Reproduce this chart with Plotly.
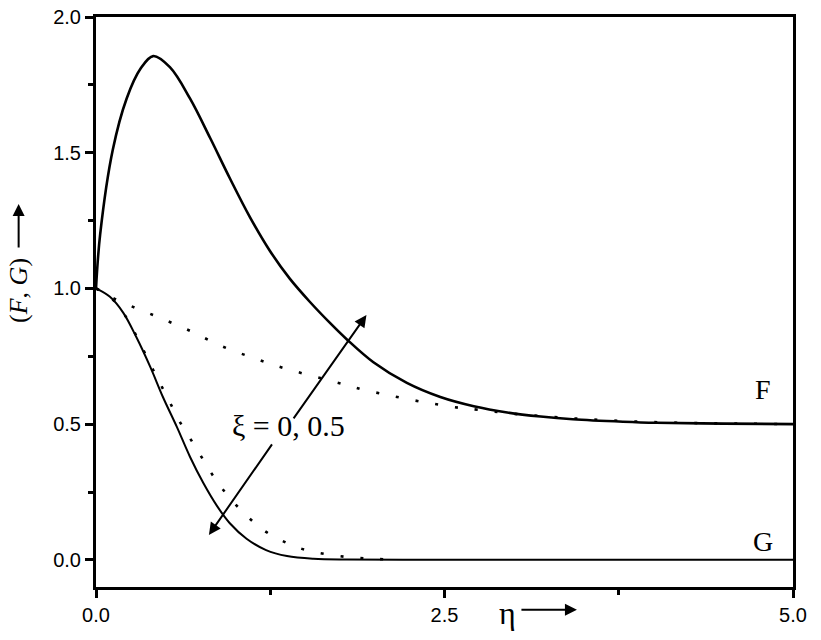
import plotly.graph_objects as go

# eta values and profiles
eta_F0 = [0.0, 0.03, 0.12, 0.22, 0.32, 0.41, 0.53, 0.674, 0.818, 0.961, 1.105, 1.248, 1.39,
          1.535, 1.68, 1.80, 1.99, 2.23, 2.47, 2.71, 2.95, 3.19, 3.42, 3.78, 4.02, 4.5, 5.0]
F_xi0 = [1.0, 1.20, 1.51, 1.70, 1.81, 1.856, 1.815, 1.70, 1.555, 1.405, 1.262, 1.138, 1.036,
         0.950, 0.872, 0.812, 0.728, 0.652, 0.600, 0.566, 0.543, 0.528, 0.518, 0.509, 0.505, 0.502, 0.50]

eta_F05 = [0.0, 0.12, 0.265, 0.41, 0.545, 0.69, 0.82, 0.95, 1.09, 1.23, 1.37, 1.79, 1.92,
           2.06, 2.19, 2.34, 2.47, 2.61, 2.74, 3.0, 3.4, 3.8, 4.2, 4.6, 5.0]
F_xi05 = [1.0, 0.965, 0.932, 0.902, 0.873, 0.84, 0.807, 0.777, 0.751, 0.726, 0.703, 0.645, 0.626,
          0.611, 0.597, 0.582, 0.571, 0.56, 0.553, 0.538, 0.522, 0.511, 0.505, 0.502, 0.50]

eta_G0 = [0.0, 0.10, 0.196, 0.29, 0.39, 0.48, 0.58, 0.674, 0.77, 0.87, 0.96, 1.08, 1.22,
          1.37, 1.56, 1.80, 2.2, 3.0, 4.0, 5.0]
G_xi0 = [1.0, 0.969, 0.91, 0.82, 0.71, 0.60, 0.49, 0.38, 0.283, 0.197, 0.135, 0.078, 0.036,
         0.014, 0.004, 0.001, 0.0, 0.0, 0.0, 0.0]

eta_G05 = [0.0, 0.10, 0.196, 0.29, 0.39, 0.46, 0.53, 0.60, 0.69, 0.77, 0.855, 0.96, 1.09,
           1.22, 1.37, 1.50, 1.64, 1.79, 1.92, 2.06]
G_xi05 = [1.0, 0.969, 0.91, 0.825, 0.72, 0.65, 0.58, 0.51, 0.435, 0.368, 0.298, 0.228, 0.158,
          0.103, 0.062, 0.037, 0.022, 0.011, 0.006, 0.002]

x_ticks = [0.0, 2.5, 5.0]
y_ticks = [0.0, 0.5, 1.0, 1.5, 2.0]

serif = "Liberation Serif, Times New Roman, serif"
sans = "Liberation Sans, Arial, sans-serif"

fig = go.Figure()

fig.add_trace(go.Scatter(x=eta_F0, y=F_xi0, mode="lines",
                         line=dict(color="black", width=2.6, shape="spline")))
fig.add_trace(go.Scatter(x=eta_F05, y=F_xi05, mode="lines",
                         line=dict(color="black", width=2.6, dash="3px,17px", shape="spline")))
fig.add_trace(go.Scatter(x=eta_G0, y=G_xi0, mode="lines",
                         line=dict(color="black", width=2, shape="spline")))
fig.add_trace(go.Scatter(x=eta_G05, y=G_xi05, mode="lines",
                         line=dict(color="black", width=2.6, dash="3px,17px", shape="spline")))

arrow = dict(text="", showarrow=True, arrowhead=2, arrowsize=1.2, arrowwidth=2, arrowcolor="black")

annotations = [
    # xi label with two arrows
    dict(x=1.38, y=0.494, xref="x", yref="y", text="ξ = 0, 0.5", showarrow=False,
         xanchor="center", yanchor="middle", font=dict(family=serif, size=30, color="black")),
    dict(x=0.81, y=0.092, ax=1.27, ay=0.431, xref="x", yref="y", axref="x", ayref="y", **arrow),
    dict(x=1.94, y=0.902, ax=1.41, ay=0.516, xref="x", yref="y", axref="x", ayref="y", **arrow),
    # curve labels
    dict(x=4.785, y=0.626, xref="x", yref="y", text="F", showarrow=False,
         xanchor="center", yanchor="middle", font=dict(family=serif, size=28, color="black")),
    dict(x=4.785, y=0.066, xref="x", yref="y", text="G", showarrow=False,
         xanchor="center", yanchor="middle", font=dict(family=serif, size=28, color="black")),
    # x title
    dict(x=0.59, y=-0.046, xref="paper", yref="paper", text="η", showarrow=False,
         xanchor="center", yanchor="middle", font=dict(family=serif, size=32, color="black")),
    dict(x=0.69, y=-0.040, xref="paper", yref="paper", ax=-57, ay=0, **arrow),
    # y title
    dict(x=-0.112, y=0.521, xref="paper", yref="paper", text="(<i>F</i>, <i>G</i>)",
         textangle=-90, showarrow=False, xanchor="center", yanchor="middle",
         font=dict(family=serif, size=26, color="black")),
    dict(x=-0.111, y=0.672, xref="paper", yref="paper", ax=0, ay=45, **arrow),
]

axis_common = dict(
    showline=True, linecolor="black", linewidth=3, mirror=True,
    showgrid=False, zeroline=False, automargin=False,
    ticks="outside", ticklen=8, tickwidth=3, tickcolor="black",
    tickfont=dict(family=sans, size=20, color="black"),
    tickformat=".1f",
)

fig.update_layout(
    width=821, height=640,
    plot_bgcolor="white", paper_bgcolor="white",
    showlegend=False,
    margin=dict(l=96, r=28, t=17, b=53),
    xaxis=dict(range=[0, 5], tickvals=x_ticks,
               minor=dict(ticks="outside", ticklen=5, tickwidth=3, tickcolor="black",
                          dtick=1.25, tick0=0),
               **axis_common),
    yaxis=dict(range=[-0.1, 2.0], tickvals=y_ticks,
               minor=dict(ticks="outside", ticklen=5, tickwidth=3, tickcolor="black",
                          dtick=0.25, tick0=0),
               **axis_common),
    annotations=annotations,
)

# drop the default page margin so the figure sits at the window corner
fig.write_html("out.html", config={"displayModeBar": False},
               post_script="document.body.style.margin = '0';")
